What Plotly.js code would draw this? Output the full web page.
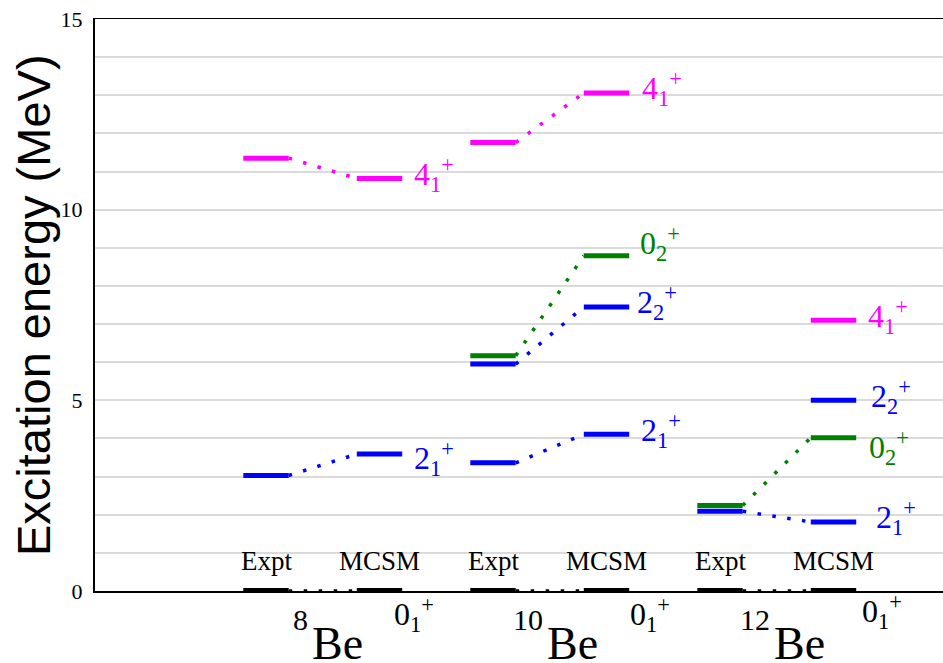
<!DOCTYPE html>
<html><head><meta charset="utf-8">
<script src="https://cdn.plot.ly/plotly-3.0.1.min.js"></script>
<style>html,body{margin:0;padding:0;background:#fff;} #chart{width:943px;height:663px;}</style>
</head><body><div id="chart"></div>
<script>
// ---------------- data ----------------
const massNumbers = ["8", "10", "12"];
const elementSymbol = "Be";
const methodNames = ["Expt", "MCSM"];
const stateNames = ["0_1", "2_1", "4_1", "2_2", "0_2"];
const stateLabels = [
  "0<sub>1</sub><sup>+</sup>",
  "2<sub>1</sub><sup>+</sup>",
  "4<sub>1</sub><sup>+</sup>",
  "2<sub>2</sub><sup>+</sup>",
  "0<sub>2</sub><sup>+</sup>"
];
// excitation energies (MeV), in stateNames order; null = level not shown
const exptBe8  = [0, 3.03, 11.35, null, null];
const mcsmBe8  = [0, 3.59, 10.82, null, null];
const exptBe10 = [0, 3.36, 11.76, 5.95, 6.17];
const mcsmBe10 = [0, 4.11, 13.06, 7.45, 8.79];
const exptBe12 = [0, 2.09, null, null, 2.24];
const mcsmBe12 = [0, 1.81, 7.10, 5.00, 4.02];
const yTickVals = [0, 5, 10, 15];
const yTitle = "Excitation energy (MeV)";

// ---------------- styling ----------------
const exptLevels = [exptBe8, exptBe10, exptBe12];
const mcsmLevels = [mcsmBe8, mcsmBe10, mcsmBe12];
const stateColors = ["#000000", "#0000ff", "#ff00ff", "#0000ff", "#008000"];
const serif = "'Liberation Serif'";
const sans = "'Liberation Sans'";
const halfW = 0.2;
// label nudges in px [dx, dy(down)], key "nucleus-state"
const labelNudge = {
  "0-0": [-20, 27], "0-1": [0, 8],
  "1-0": [-11, 27], "1-3": [-4, 0], "1-4": [-1, -8], "1-2": [1, 0],
  "2-0": [-6, 24], "2-1": [8, 0], "2-3": [3, 0], "2-4": [1, 14]
};

function xPos(n, m) { return 2 * n + m + 1; }

const traces = [];
stateNames.forEach((s, si) => {
  const bx = [], by = [], cx = [], cy = [];
  massNumbers.forEach((mn, n) => {
    const e = exptLevels[n][si], c = mcsmLevels[n][si];
    [e, c].forEach((v, m) => {
      if (v === null) return;
      const x = xPos(n, m);
      bx.push(x - halfW, x + halfW, null); by.push(v, v, null);
    });
    if (e !== null && c !== null) {
      cx.push(xPos(n, 0) + halfW, xPos(n, 1) - halfW, null);
      cy.push(e, c, null);
    }
  });
  traces.push({x: cx, y: cy, mode: "lines", hoverinfo: "skip", showlegend: false,
    line: {color: stateColors[si], width: 3.5, dash: "3.5px,11.5px"}});
  traces.push({x: bx, y: by, mode: "lines", hoverinfo: "skip", showlegend: false,
    line: {color: stateColors[si], width: si === 0 ? 6 : 5}});
});

const annotations = [];
massNumbers.forEach((mn, n) => {
  methodNames.forEach((name, m) => {
    annotations.push({x: xPos(n, m), y: 0, xref: "x", yref: "y", text: name,
      showarrow: false, xanchor: "center", yanchor: "middle", yshift: 30,
      font: {family: serif, size: 27, color: "#000"}});
  });
  mcsmLevels[n].forEach((v, si) => {
    if (v === null) return;
    const nd = labelNudge[n + "-" + si] || [0, 0];
    annotations.push({x: xPos(n, 1) + halfW, y: v, xref: "x", yref: "y",
      text: stateLabels[si], showarrow: false, xanchor: "left", yanchor: "middle",
      xshift: 10 + nd[0], yshift: 4 - nd[1],
      font: {family: serif, size: 32, color: stateColors[si]}});
  });
  const mid = (xPos(n, 0) + xPos(n, 1)) / 2;
  const massW = 15 * mn.length;
  const beStart = 3 - (massW + 2 + 48) / 2 + massW + 2;
  annotations.push({x: mid, y: 0, xref: "x", yref: "y", text: mn, showarrow: false,
    xanchor: "right", yanchor: "middle", xshift: beStart, yshift: -28,
    font: {family: serif, size: 30, color: "#000"}});
  annotations.push({x: mid, y: 0, xref: "x", yref: "y", text: elementSymbol, showarrow: false,
    xanchor: "left", yanchor: "middle", xshift: beStart, yshift: -52,
    font: {family: serif, size: 46, color: "#000"}});
});
// y-axis title, drawn as rotated text beside the axis
annotations.push({xref: "paper", yref: "paper", x: 0, y: 0.5, xshift: -62,
  text: yTitle, textangle: -90, showarrow: false, xanchor: "center", yanchor: "middle",
  font: {family: sans, size: 47, color: "#000"}});

const layout = {
  width: 943, height: 663,
  margin: {l: 95, r: 0, t: 19, b: 72},
  paper_bgcolor: "#fff", plot_bgcolor: "#fff",
  showlegend: false,
  xaxis: {range: [-0.5066, 6.9648], showgrid: false, zeroline: false,
    showticklabels: false, ticks: "", showline: true, mirror: true,
    linecolor: "#000", linewidth: 1.5, fixedrange: true},
  yaxis: {range: [0, 15], tickvals: yTickVals, ticktext: yTickVals.map(String),
    showgrid: true, gridcolor: "#dadada", gridwidth: 2, zeroline: false,
    minor: {dtick: 1, showgrid: true, gridcolor: "#dadada", gridwidth: 2, ticks: ""},
    ticks: "", ticklabelstandoff: 6, showline: true, linecolor: "#000", linewidth: 2,
    tickfont: {family: serif, size: 22, color: "#000"},
    fixedrange: true},
  annotations: annotations
};

Plotly.newPlot("chart", traces, layout, {displayModeBar: false, staticPlot: true});
</script>
</body></html>
